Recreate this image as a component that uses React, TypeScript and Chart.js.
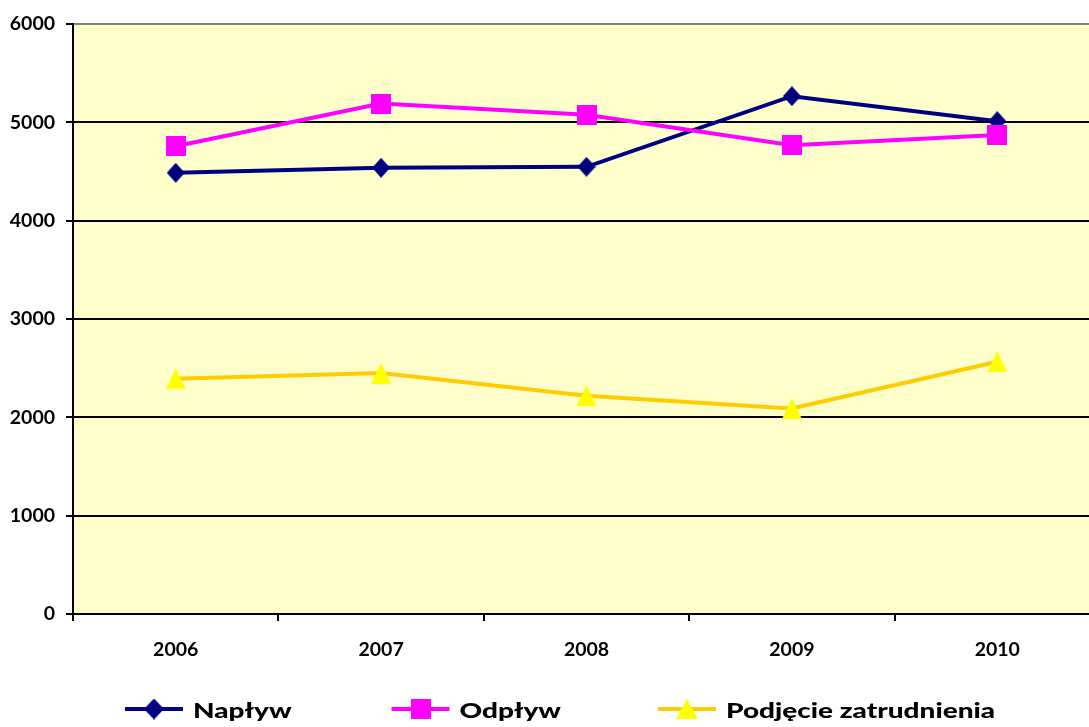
import React, { useEffect, useRef } from 'react';
import { Chart, registerables } from 'chart.js';

Chart.register(...registerables);

const categories = ['2006', '2007', '2008', '2009', '2010'];
const naplyw = [4487, 4538, 4548, 5266, 5012];
const odplyw = [4757, 5191, 5077, 4768, 4870];
const podjecie = [2392, 2450, 2219, 2090, 2565];
const yTicks = [0, 1000, 2000, 3000, 4000, 5000, 6000];
const seriesNames = ['Napływ', 'Odpływ', 'Podjęcie zatrudnienia'];

const FONT = 'Lato, "DejaVu Sans", sans-serif';

function makeMarker(kind: string, fill: string, w: number, h: number): HTMLCanvasElement {
  const c = document.createElement('canvas');
  c.width = w;
  c.height = h;
  const g = c.getContext('2d')!;
  g.fillStyle = fill;
  g.beginPath();
  if (kind === 'diamond') {
    g.moveTo(w / 2, 0);
    g.lineTo(w, h / 2);
    g.lineTo(w / 2, h);
    g.lineTo(0, h / 2);
  } else if (kind === 'square') {
    g.rect(0, 0, w, h);
  } else {
    g.moveTo(w / 2, 0);
    g.lineTo(w, h);
    g.lineTo(0, h);
  }
  g.closePath();
  g.fill();
  return c;
}

const plotBg = {
  id: 'plotBg',
  beforeDraw(chart: any) {
    const { ctx, chartArea } = chart;
    ctx.save();
    ctx.fillStyle = '#FFFFCC';
    ctx.fillRect(chartArea.left, chartArea.top, chartArea.right - chartArea.left, chartArea.bottom - chartArea.top);
    ctx.restore();
  },
};

const LEG = { x0: 125, slot: 266.5, y: 709, lineW: 58, gap: 10, size: 21.5, scaleX: 1.3 };

const customLegend = {
  id: 'customLegend',
  afterDraw(chart: any) {
    const { ctx } = chart;
    ctx.save();
    chart.data.datasets.forEach((ds: any, i: number) => {
      const x = LEG.x0 + i * LEG.slot;
      ctx.strokeStyle = ds.borderColor;
      ctx.lineWidth = 4;
      ctx.beginPath();
      ctx.moveTo(x, LEG.y);
      ctx.lineTo(x + LEG.lineW, LEG.y);
      ctx.stroke();
      const img = ds.legendMarker as HTMLCanvasElement;
      ctx.drawImage(img, x + LEG.lineW / 2 - img.width / 2, LEG.y - img.height / 2);
      ctx.save();
      ctx.translate(x + LEG.lineW + LEG.gap, LEG.y + 8.5);
      ctx.scale(LEG.scaleX, 1);
      ctx.fillStyle = '#000';
      ctx.font = `900 ${LEG.size}px ${FONT}`;
      ctx.textAlign = 'left';
      ctx.textBaseline = 'alphabetic';
      ctx.fillText(ds.label, 0, 0);
      ctx.restore();
    });
    ctx.restore();
  },
};

export default function App() {
  const ref = useRef<HTMLCanvasElement>(null);

  useEffect(() => {
    if (!ref.current) return;
    const diamond = makeMarker('diamond', '#000080', 18, 20);
    const square = makeMarker('square', '#FF00FF', 20, 20);
    const triangle = makeMarker('triangle', '#FFFF00', 20, 21);
    const diamondL = makeMarker('diamond', '#000080', 20, 21);
    const squareL = makeMarker('square', '#FF00FF', 20, 20);
    const triangleL = makeMarker('triangle', '#FFFF00', 22, 20);
    const tickFont = { family: FONT, weight: 'bold' as const, size: 19.5 };

    const chart = new Chart(ref.current, {
      type: 'line',
      data: {
        labels: categories,
        datasets: [
          {
            label: seriesNames[0],
            data: naplyw,
            borderColor: '#000080',
            backgroundColor: '#000080',
            borderWidth: 4,
            pointStyle: diamond as any,
            pointRadius: 10,
            order: 3,
            tension: 0,
            legendMarker: diamondL,
          } as any,
          {
            label: seriesNames[1],
            data: odplyw,
            borderColor: '#FF00FF',
            backgroundColor: '#FF00FF',
            borderWidth: 4,
            pointStyle: square as any,
            pointRadius: 10,
            order: 2,
            tension: 0,
            legendMarker: squareL,
          } as any,
          {
            label: seriesNames[2],
            data: podjecie,
            borderColor: '#FFCC00',
            backgroundColor: '#FFFF00',
            borderWidth: 4,
            pointStyle: triangle as any,
            pointRadius: 10,
            order: 1,
            tension: 0,
            legendMarker: triangleL,
          } as any,
        ],
      },
      options: {
        animation: false,
        responsive: false,
        devicePixelRatio: 1,
        layout: { autoPadding: false, padding: { top: 24, bottom: 53, left: 0, right: 0 } },
        plugins: {
          legend: { display: false },
          tooltip: { enabled: false },
        },
        scales: {
          x: {
            type: 'category',
            offset: true,
            grid: {
              offset: true,
              drawOnChartArea: false,
              drawTicks: true,
              tickLength: 7,
              color: '#000',
              lineWidth: 2,
            },
            border: { color: '#000', width: 2 },
            ticks: { font: tickFont, color: '#000', padding: 17, maxRotation: 0 },
            afterFit: (s: any) => {
              s.height = 60;
            },
          },
          y: {
            min: 0,
            max: 6000,
            afterBuildTicks: (s: any) => {
              s.ticks = yTicks.map((v) => ({ value: v }));
            },
            ticks: { font: tickFont, color: '#000', padding: 11, callback: (v: any) => String(v) },
            grid: {
              color: (c: any) => (c.tick && c.tick.value === 6000 ? '#808080' : '#000000'),
              tickColor: '#000',
              lineWidth: 2,
              tickLength: 7,
            },
            border: { color: '#000', width: 2 },
            afterFit: (s: any) => {
              s.width = 73;
            },
          },
        },
      },
      plugins: [plotBg, customLegend],
    });
    return () => chart.destroy();
  }, []);

  return (
    <div style={{ position: 'fixed', left: 0, top: 0, width: '100vw', height: '100vh', overflow: 'hidden', background: '#fff' }}>
      <canvas ref={ref} width={1100} height={727} style={{ display: 'block' }} />
    </div>
  );
}
